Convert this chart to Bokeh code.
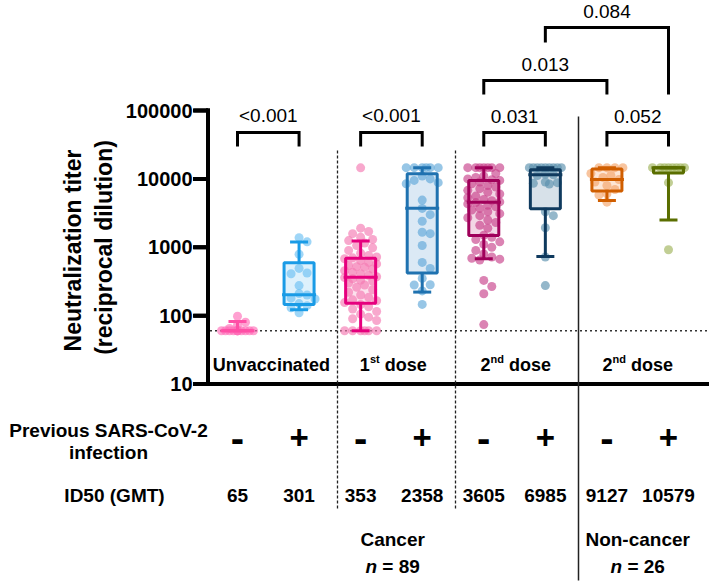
import numpy as np
from bokeh.plotting import figure
from bokeh.models import Range1d
from bokeh.core.properties import value
from bokeh.embed import file_html
from bokeh.resources import INLINE

FONT = "Liberation Sans"

# ---------------- data ----------------
group_x = [1, 2, 3, 4, 5, 6, 7, 8]
infection_signs = ["-", "+", "-", "+", "-", "+", "-", "+"]
gmt_labels = ["65", "301", "353", "2358", "3605", "6985", "9127", "10579"]

unvacc_neg = [98, 80, 73, 65, 60, 60, 60, 60, 60, 60, 60, 60, 60, 60, 60, 60]
unvacc_pos = [1380, 1200, 790, 490, 420, 410, 275, 210, 200, 180, 175, 150, 140, 130, 110]
dose1_neg = [60, 60, 60, 60, 60, 60, 85, 90, 95, 105, 115, 125, 135, 145, 155, 165, 170,
             185, 200, 220, 240, 260, 280, 300, 320, 330, 345, 360, 370, 390, 410, 430,
             455, 480, 510, 520, 540, 570, 600, 640, 680, 700, 720, 760, 820, 900, 980,
             1060, 1150, 1250, 1300, 1400, 1580, 1700, 1900, 14500]
dose1_pos = [14580, 14580, 14580, 14580, 14580, 14580, 11000, 10000, 9500, 8800, 8500,
             4900, 3700, 3000, 2400, 1660, 1580, 1060, 600, 490, 350, 283, 280, 230, 146]
dose2_neg = [14580, 14580, 14580, 14580, 14580, 14580, 14580, 12000, 11000, 10500, 10000,
             9700, 9500, 9000, 8500, 8000, 7600, 7200, 6800, 6400, 6000, 5600, 5300, 5000,
             4800, 4600, 4500, 4300, 4100, 3900, 3700, 3500, 3300, 3100, 2900, 2700, 2500,
             2300, 2100, 1900, 1500, 1400, 1300, 1200, 1100, 1000, 900, 800, 720, 690,
             670, 650, 327, 267, 209, 74]
dose2_pos = [14580, 14580, 14580, 14580, 14580, 14580, 14580, 14580, 14580, 11800, 11500,
             11200, 9000, 8800, 8600, 8400, 3300, 2900, 1930, 720, 275]
nc_dose2_neg = [14580, 14580, 14580, 14580, 12000, 11200, 10500, 9800, 9000, 8000, 7000,
                6050, 5800, 4570]
nc_dose2_pos = [14580, 14580, 14580, 14580, 14580, 14580, 14580, 14580, 8800, 918]
titers = [unvacc_neg, unvacc_pos, dose1_neg, dose1_pos, dose2_neg, dose2_pos,
          nc_dose2_neg, nc_dose2_pos]

box_q1 = [60, 146, 152, 419, 1490, 3650, 6640, 12200]
box_med = [60, 202, 365, 3730, 4570, 11500, 9800, 14580]
box_q3 = [60, 593, 693, 11870, 9490, 13600, 14000, 14580]
whisk_lo = [60, 122, 60, 221, 679, 733, 4830, 2510]
whisk_hi = [82, 1189, 1232, 14580, 14580, 14580, 14580, 14580]
lod = 60

y_ticks = [10, 100, 1000, 10000, 100000]
y_tick_labels = ["10", "100", "1000", "10000", "100000"]

pvalues = ["<0.001", "<0.001", "0.031", "0.052", "0.013", "0.084"]
p_pairs = [(1, 2), (3, 4), (5, 6), (7, 8), (5, 7), (6, 8)]

line_colors = ["#FF4FA6", "#1A9BE6", "#E6007E", "#1F72B0", "#A0005A", "#0F3A5E", "#D05E00", "#5A6E00"]
point_colors = ["#FF6FB8", "#6CC0F2", "#F47AB2", "#5FA8D8", "#C8408A", "#5A91AE", "#F5A56A", "#9FB45A"]
fill_colors = ["#FFD6EA", "#D6EEFB", "#FBD9E8", "#D2E4F2", "#F0CCDF", "#CDDAE4", "#FDE0CC", "#E3E9C8"]

# ---------------- layout helpers (page pixels -> data) ----------------
PW, PH = 709, 584
X0_PAGE = 237.0
DX = 61.57
Y_TOP_TICK_PAGE = 110.0
DEC = 68.375
AXIS_X = 207.5


def px2x(px):
    return 1 + (px - X0_PAGE) / DX


def py2y(py):
    return 10 ** (5 - (py - Y_TOP_TICK_PAGE) / DEC)


p = figure(width=PW, height=PH, y_axis_type="log", x_axis_location=None,
           y_axis_location=None, x_range=Range1d(px2x(0), px2x(PW)),
           y_range=Range1d(py2y(PH), py2y(0)), output_backend="svg",
           toolbar_location=None, outline_line_color=None, min_border=0,
           background_fill_color="white", border_fill_color="white")
p.grid.visible = False


def txt(x, y, s, size=19, align="center", xoff=0, yoff=0, style="bold", angle=0.0):
    p.text(x=[x], y=[y], text=[s], text_font=value(FONT),
           text_font_size=value(f"{size}px"), text_font_style=style,
           text_align=align, text_baseline="middle", text_color="black",
           x_offset=xoff, y_offset=yoff, angle=angle)


# ---------------- axes ----------------
ax_lo, ax_hi = py2y(385.5), py2y(108)
p.segment(x0=[px2x(AXIS_X - 2)], y0=[y_ticks[0]], x1=[px2x(PW + 4)], y1=[y_ticks[0]],
          line_width=4, line_color="black")
p.segment(x0=[px2x(AXIS_X)], y0=[ax_lo], x1=[px2x(AXIS_X)], y1=[ax_hi],
          line_width=4, line_color="black")
p.segment(x0=[px2x(193)] * len(y_ticks), y0=list(y_ticks),
          x1=[px2x(AXIS_X)] * len(y_ticks), y1=list(y_ticks),
          line_width=4, line_color="black")
# same axis strokes again as dash markers (sized in screen pixels)
p.scatter(x=[px2x(200)] * len(y_ticks), y=list(y_ticks), marker="dash", size=15,
          line_width=4, line_color="black")
p.scatter(x=[px2x(AXIS_X)], y=[py2y(246.75)], marker="dash", size=277.5, angle=np.pi / 2,
          line_width=4, line_color="black")
p.scatter(x=[px2x(459)], y=[y_ticks[0]], marker="dash", size=505, line_width=4,
          line_color="black")

for t, s in zip(y_ticks, y_tick_labels):
    txt(px2x(192), t, s, 20, align="right")
txt(px2x(72), py2y(250), "Neutralization titer", 23, angle=np.pi / 2)
txt(px2x(103), py2y(247), "(reciprocal dilution)", 23, angle=np.pi / 2)

# limit of detection
p.segment(x0=[px2x(AXIS_X + 2)], y0=[lod], x1=[px2x(PW + 4)], y1=[lod],
          line_width=1.5, line_color="#333333", line_dash="2 3")

# separators
for xp in [337, 455]:
    p.segment(x0=[px2x(xp)], y0=[py2y(150)], x1=[px2x(xp)], y1=[py2y(510)],
              line_width=1.3, line_color="#222222", line_dash="3 2")
p.segment(x0=[px2x(578)], y0=[py2y(116)], x1=[px2x(578)], y1=[py2y(580)],
          line_width=1.5, line_color="#222222")


# ---------------- beeswarm offsets (deterministic) ----------------
def swarm(vals, step=4.0, dmin=8.0, maxoff=16.0):
    ys = [np.log10(v) * DEC for v in vals]
    order = sorted(range(len(vals)), key=lambda i: -vals[i])
    cands = [0.0]
    k = 1
    while k * step <= maxoff + 1e-9:
        cands += [k * step, -k * step]
        k += 1
    placed = []
    offs = [0.0] * len(vals)
    for i in order:
        y = ys[i]
        chosen = None
        best_c, best_d = 0.0, -1.0
        for c in cands:
            d = min([np.hypot(c - a, y - b) for a, b in placed], default=1e9)
            if d >= dmin:
                chosen = c
                break
            if d > best_d:
                best_d, best_c = d, c
        if chosen is None:
            chosen = best_c
        placed.append((chosen, y))
        offs[i] = chosen / DX
    return offs


BOX_HW = 15 / DX
MED_HW = 17 / DX
CAP_HW = 9 / DX

for gi, gx in enumerate(group_x):
    vals = titers[gi]
    offs = swarm(vals)
    lc, pc, fc = line_colors[gi], point_colors[gi], fill_colors[gi]
    p.vbar(x=[gx], width=2 * BOX_HW, top=[box_q3[gi]], bottom=[box_q1[gi]],
           fill_color=fc, fill_alpha=0.8, line_color=None)
    p.scatter(x=[gx + o for o in offs], y=vals, size=9, fill_color=pc, fill_alpha=0.65,
              line_color=None)
    p.vbar(x=[gx], width=2 * BOX_HW, top=[box_q3[gi]], bottom=[box_q1[gi]],
           fill_color=None, line_color=lc, line_width=3)
    p.segment(x0=[gx, gx], y0=[box_q3[gi], box_q1[gi]], x1=[gx, gx],
              y1=[whisk_hi[gi], whisk_lo[gi]], line_color=lc, line_width=3)
    p.segment(x0=[gx - CAP_HW, gx - CAP_HW], y0=[whisk_hi[gi], whisk_lo[gi]],
              x1=[gx + CAP_HW, gx + CAP_HW], y1=[whisk_hi[gi], whisk_lo[gi]],
              line_color=lc, line_width=3)
    p.segment(x0=[gx - MED_HW], y0=[box_med[gi]], x1=[gx + MED_HW], y1=[box_med[gi]],
              line_color=lc, line_width=3)

# ---------------- significance brackets ----------------
bracket_geom = [  # (top page y, left leg bottom, right leg bottom, text page y)
    (132, 146, 146, 115), (132, 146, 146, 115), (132, 146, 146, 116), (132, 146, 146, 116),
    (80, 94, 94, 64), (27, 42, 94, 11)]
for (a, b), lab, (top, lb, rb, ty) in zip(p_pairs, pvalues, bracket_geom):
    p.multi_line(xs=[[a, a, b, b]], ys=[[py2y(lb), py2y(top), py2y(top), py2y(rb)]],
                 line_color="black", line_width=3, line_join="miter")
    txt((a + b) / 2, py2y(ty), lab, 19, style="normal")

# ---------------- category texts ----------------
ADV = {"1": .556, "2": .556, "s": .556, "t": .333, "n": .611, "d": .611, " ": .278,
       "o": .611, "e": .556, "=": .584, "8": .556, "9": .556, "6": .556}


def wid(s, size):
    return sum(ADV[c] for c in s) * size


def sup_label(x, py, base, sup, rest, F=18, f=11):
    sp = wid(" ", F)
    total = wid(base, F) + wid(sup, f) + sp + wid(rest, F)
    x0 = -total / 2
    txt(x, py2y(py), base, F, "left", x0)
    txt(x, py2y(py), sup, f, "left", x0 + wid(base, F), -6)
    txt(x, py2y(py), rest, F, "left", x0 + wid(base, F) + wid(sup, f) + sp)


txt(1.55, py2y(364), "Unvaccinated", 18)
sup_label(3.53, 364, "1", "st", "dose")
sup_label(5.52, 364, "2", "nd", "dose")
sup_label(7.5, 364, "2", "nd", "dose")

for gx, s, g in zip(group_x, infection_signs, gmt_labels):
    txt(gx, py2y(437), s, 40 if s == "-" else 33)
    txt(gx, py2y(495), g, 19)

txt(3.52, py2y(539), "Cancer", 19)
txt(7.5, py2y(539), "Non-cancer", 19)
for gx, nlab in [(3.52, "= 89"), (7.5, "= 26")]:
    sp = wid(" ", 19)
    total = wid("n", 19) + sp + wid(nlab, 19)
    txt(gx, py2y(566), "n", 19, "left", -total / 2, 0, "bold italic")
    txt(gx, py2y(566), nlab, 19, "left", -total / 2 + wid("n", 19) + sp)

# ---------------- row labels ----------------
txt(px2x(108), py2y(430), "Previous SARS-CoV-2", 19)
txt(px2x(108), py2y(452), "infection", 19)
txt(px2x(114), py2y(495), "ID50 (GMT)", 19)

open("out.html", "w").write(file_html(p, INLINE))
